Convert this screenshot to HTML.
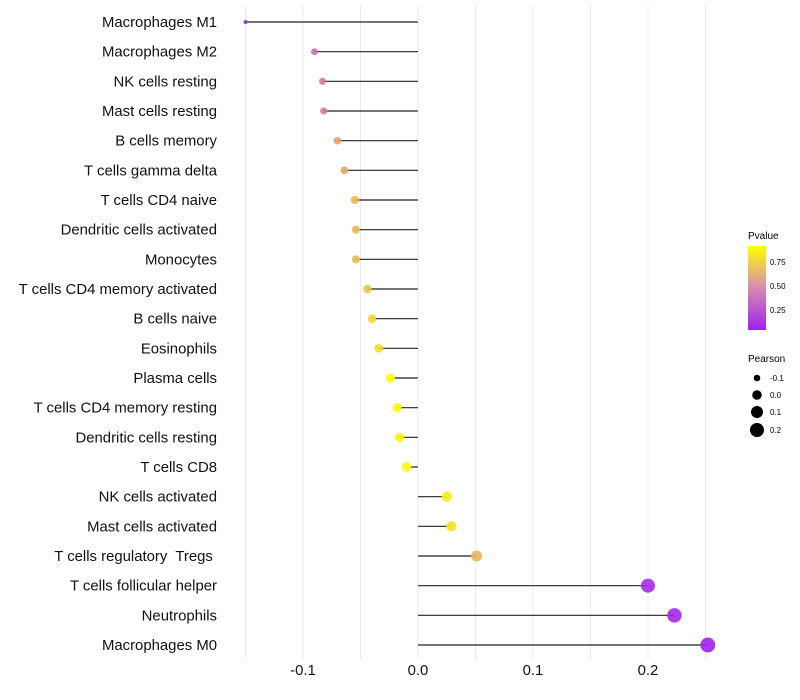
<!DOCTYPE html>
<html><head><meta charset="utf-8"><style>
body{margin:0;background:#fff;font-family:"Liberation Sans",sans-serif;}
svg{display:block}
text{white-space:pre}
</style></head><body>
<svg id="chart" width="800" height="700" xmlns="http://www.w3.org/2000/svg" font-family="Liberation Sans, sans-serif">
<defs><linearGradient id="pg" x1="0" y1="1" x2="0" y2="0">
<stop offset="0" stop-color="#a020f0"/><stop offset="0.5" stop-color="#d88ab0"/><stop offset="1" stop-color="#ffff00"/></linearGradient></defs>
<g id="grid"></g>
<g id="marks"></g>
<g id="ylabels"></g>
<g id="xlabels"></g>
<g>
<text x="748" y="239" font-size="10">Pvalue</text>
<rect x="748" y="246" width="18" height="84" fill="url(#pg)"/>
<text x="770" y="265" font-size="8">0.75</text>
<text x="770" y="289" font-size="8">0.50</text>
<text x="770" y="313" font-size="8">0.25</text>
</g>
<g>
<text x="748" y="362" font-size="10">Pearson</text>
<circle cx="757" cy="378" r="3.3" fill="#000"/><text x="770" y="381" font-size="8">-0.1</text>
<circle cx="757" cy="395" r="4.8" fill="#000"/><text x="770" y="398" font-size="8">0.0</text>
<circle cx="757" cy="412" r="6" fill="#000"/><text x="770" y="415" font-size="8">0.1</text>
<circle cx="757" cy="430" r="7" fill="#000"/><text x="770" y="433" font-size="8">0.2</text>
</g>
</svg>
<script>
const categories=["Macrophages M1","Macrophages M2","NK cells resting","Mast cells resting","B cells memory","T cells gamma delta","T cells CD4 naive","Dendritic cells activated","Monocytes","T cells CD4 memory activated","B cells naive","Eosinophils","Plasma cells","T cells CD4 memory resting","Dendritic cells resting","T cells CD8","NK cells activated","Mast cells activated","T cells regulatory  Tregs ","T cells follicular helper","Neutrophils","Macrophages M0"];
const pearson=[-0.150,-0.090,-0.083,-0.082,-0.070,-0.064,-0.055,-0.054,-0.054,-0.044,-0.040,-0.034,-0.024,-0.018,-0.016,-0.010,0.025,0.029,0.051,0.200,0.223,0.252];
const pvalue=[0.05,0.42,0.45,0.45,0.58,0.62,0.68,0.68,0.68,0.72,0.78,0.80,0.92,0.90,0.88,0.93,0.85,0.82,0.66,0.10,0.08,0.05];
const xticks=[-0.1,0.0,0.1,0.2];
const xgrid=[-0.15,-0.1,-0.05,0,0.05,0.1,0.15,0.2,0.25];
const NS="http://www.w3.org/2000/svg";
const xs=v=>418+v*1150;
const ys=i=>22+i*(623/21);
function col(p){
  const lo=0.045,hi=0.92;let t=Math.max(0,Math.min(1,(p-lo)/(hi-lo)));
  const a=[160,32,240],m=[212,130,152],b=[255,255,0];let c;
  if(t<0.5){const u=t*2;c=a.map((x,k)=>x+(m[k]-x)*u);}else{const u=(t-0.5)*2;c=m.map((x,k)=>x+(b[k]-x)*u);}
  return `rgb(${c.map(Math.round).join(",")})`;
}
const rad=v=>Math.sqrt(Math.max(1,23.5+130*v));
function mk(tag,attrs,parent){const e=document.createElementNS(NS,tag);for(const k in attrs)e.setAttribute(k,attrs[k]);document.getElementById(parent).appendChild(e);return e;}
xgrid.forEach(v=>{const l=mk("line",{x1:xs(v),x2:xs(v),y1:5,y2:660,stroke:"#ebebeb","stroke-width":1},"grid");

});
categories.forEach((c,i)=>{const y=ys(i);
const s=mk("line",{x1:xs(0),x2:xs(pearson[i]),y1:y,y2:y,stroke:"#222","stroke-width":1.2},"marks");


const d=mk("circle",{cx:xs(pearson[i]),cy:y,r:rad(pearson[i]),fill:col(pvalue[i]),"fill-opacity":0.9},"marks");


const t=mk("text",{x:217,y:y+5,"text-anchor":"end","font-size":14.9,fill:"#111"},"ylabels");t.textContent=c;

});
xticks.forEach(v=>{const t=mk("text",{x:xs(v),y:675,"text-anchor":"middle","font-size":14.9,fill:"#111"},"xlabels");t.textContent=v.toFixed(1);

});
</script>
</body></html>
